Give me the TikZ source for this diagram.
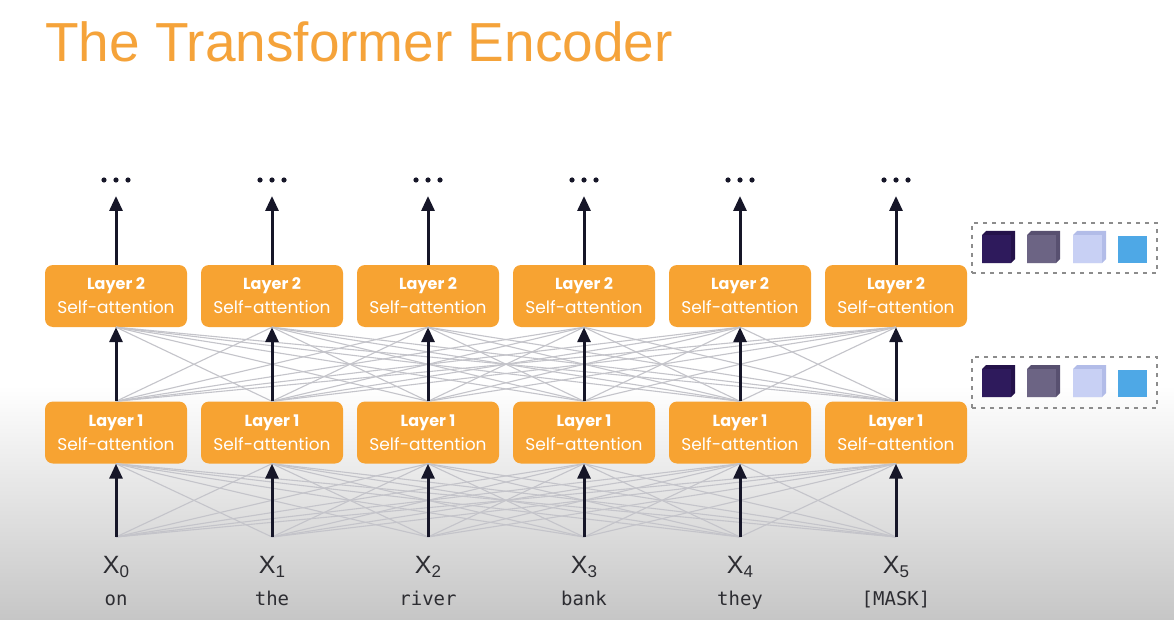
\documentclass[tikz,border=0pt]{standalone}
\usepackage{fontspec}
\setmainfont{Liberation Sans}
\newfontfamily\boxfont{Poppins}
\newfontfamily\codefont{DejaVu Sans Mono}
\usetikzlibrary{arrows.meta}

\definecolor{titleorange}{RGB}{245,163,58}
\definecolor{boxorange}{RGB}{247,163,50}
\definecolor{arrowdark}{RGB}{22,22,40}
\definecolor{linkgray}{RGB}{196,196,202}
\definecolor{bgbottom}{RGB}{198,198,198}
\definecolor{labelgray}{RGB}{45,45,50}
\definecolor{dashgray}{RGB}{140,140,140}
\definecolor{cubeA}{RGB}{46,26,92}
\definecolor{cubeAback}{RGB}{36,18,74}
\definecolor{cubeB}{RGB}{108,100,132}
\definecolor{cubeBback}{RGB}{88,80,112}
\definecolor{cubeC}{RGB}{200,208,244}
\definecolor{cubeCback}{RGB}{178,188,232}
\definecolor{cubeD}{RGB}{78,168,230}

\tikzset{
  encbox/.style={fill=boxorange, rounded corners=8pt, minimum width=142pt,
    minimum height=62pt, inner sep=0pt, text=white, align=center,
    font=\boxfont\fontsize{17}{24}\selectfont},
  flow/.style={draw=arrowdark, line width=3pt,
    -{Triangle[width=13pt,length=15pt]}},
  link/.style={draw=linkgray, line width=1.1pt},
  xlabel/.style={text=labelgray, font=\fontsize{25}{25}\selectfont, inner sep=0pt, anchor=base},
  word/.style={text=labelgray, font=\codefont\fontsize{19}{19}\selectfont, inner sep=0pt, anchor=base},
  dashbox/.style={draw=dashgray, line width=1.6pt, dash pattern=on 4pt off 5pt,
    minimum width=185pt, inner sep=0pt},
}

\newcommand{\cube}[4]{% x, y (top-left of front face), front colour, back colour
  \fill[#4] (#1,#2) -- (#1+4,#2-4) -- (#1+33,#2-4) -- (#1+33,#2+24) -- (#1+29,#2+28) -- (#1,#2+28) -- cycle;
  \fill[#3] (#1,#2) rectangle (#1+29,#2+28);
}

\begin{document}
\begin{tikzpicture}[x=1pt,y=-1pt]
\useasboundingbox (0,0) rectangle (1174,620);
\fill[white] (0,0) rectangle (1174,620);
\shade[top color=white, bottom color=bgbottom] (0,385) rectangle (1174,620);

% heading
\node[anchor=base west, inner sep=0pt, text=titleorange,
      font=\fontsize{55}{60}\selectfont] (title) at (45,62) {The Transformer Encoder};

% token columns
\foreach \i/\w in {0/on,1/the,2/river,3/bank,4/they,5/{[MASK]}} {
  \pgfmathsetmacro{\cx}{116+156*\i}
  \node[encbox] (la\i) at (\cx,432.5) {{\bfseries\fontsize{16}{24}\selectfont Layer 1}\\Self-attention};
  \node[encbox] (lb\i) at (\cx,296) {{\bfseries\fontsize{16}{24}\selectfont Layer 2}\\Self-attention};
  \coordinate (in\i) at (\cx,537);
  \coordinate (top\i) at (\cx,196);
  \node[xlabel] (x\i) at (\cx,573) {X\raisebox{-4pt}{\fontsize{17}{17}\selectfont\i}};
  \node[word] (w\i) at (\cx,605) {\w};
}

% all-to-all attention links
\foreach \i in {0,...,5} {
  \foreach \j in {0,...,5} {
    \ifnum\i=\j\else
      \draw[link] (in\i) -- (la\j.south);
      \draw[link] (la\i.north) -- (lb\j.south);
    \fi
  }
}

% vertical flow arrows and continuation dots
\foreach \i in {0,...,5} {
  \pgfmathsetmacro{\cx}{116+156*\i}
  \draw[flow] (in\i) -- (la\i.south);
  \draw[flow] (la\i.north) -- (lb\i.south);
  \draw[flow] (lb\i.north) -- (top\i);
  \foreach \d in {-12,0,12} \fill[arrowdark] (\cx+\d,180) circle (2.6);
}

% parameter groups beside the layers
\node[dashbox, minimum height=50pt] (grpb) at (1064.5,248) {};
\node[dashbox, minimum height=51pt] (grpa) at (1064.5,382.5) {};
\foreach \oy in {235,369} {
  \cube{982}{\oy}{cubeA}{cubeAback}
  \cube{1027}{\oy}{cubeB}{cubeBback}
  \cube{1073}{\oy}{cubeC}{cubeCback}
  \fill[cubeD] (1118,\oy+1) rectangle (1147,\oy+28);
}
\end{tikzpicture}
\end{document}
